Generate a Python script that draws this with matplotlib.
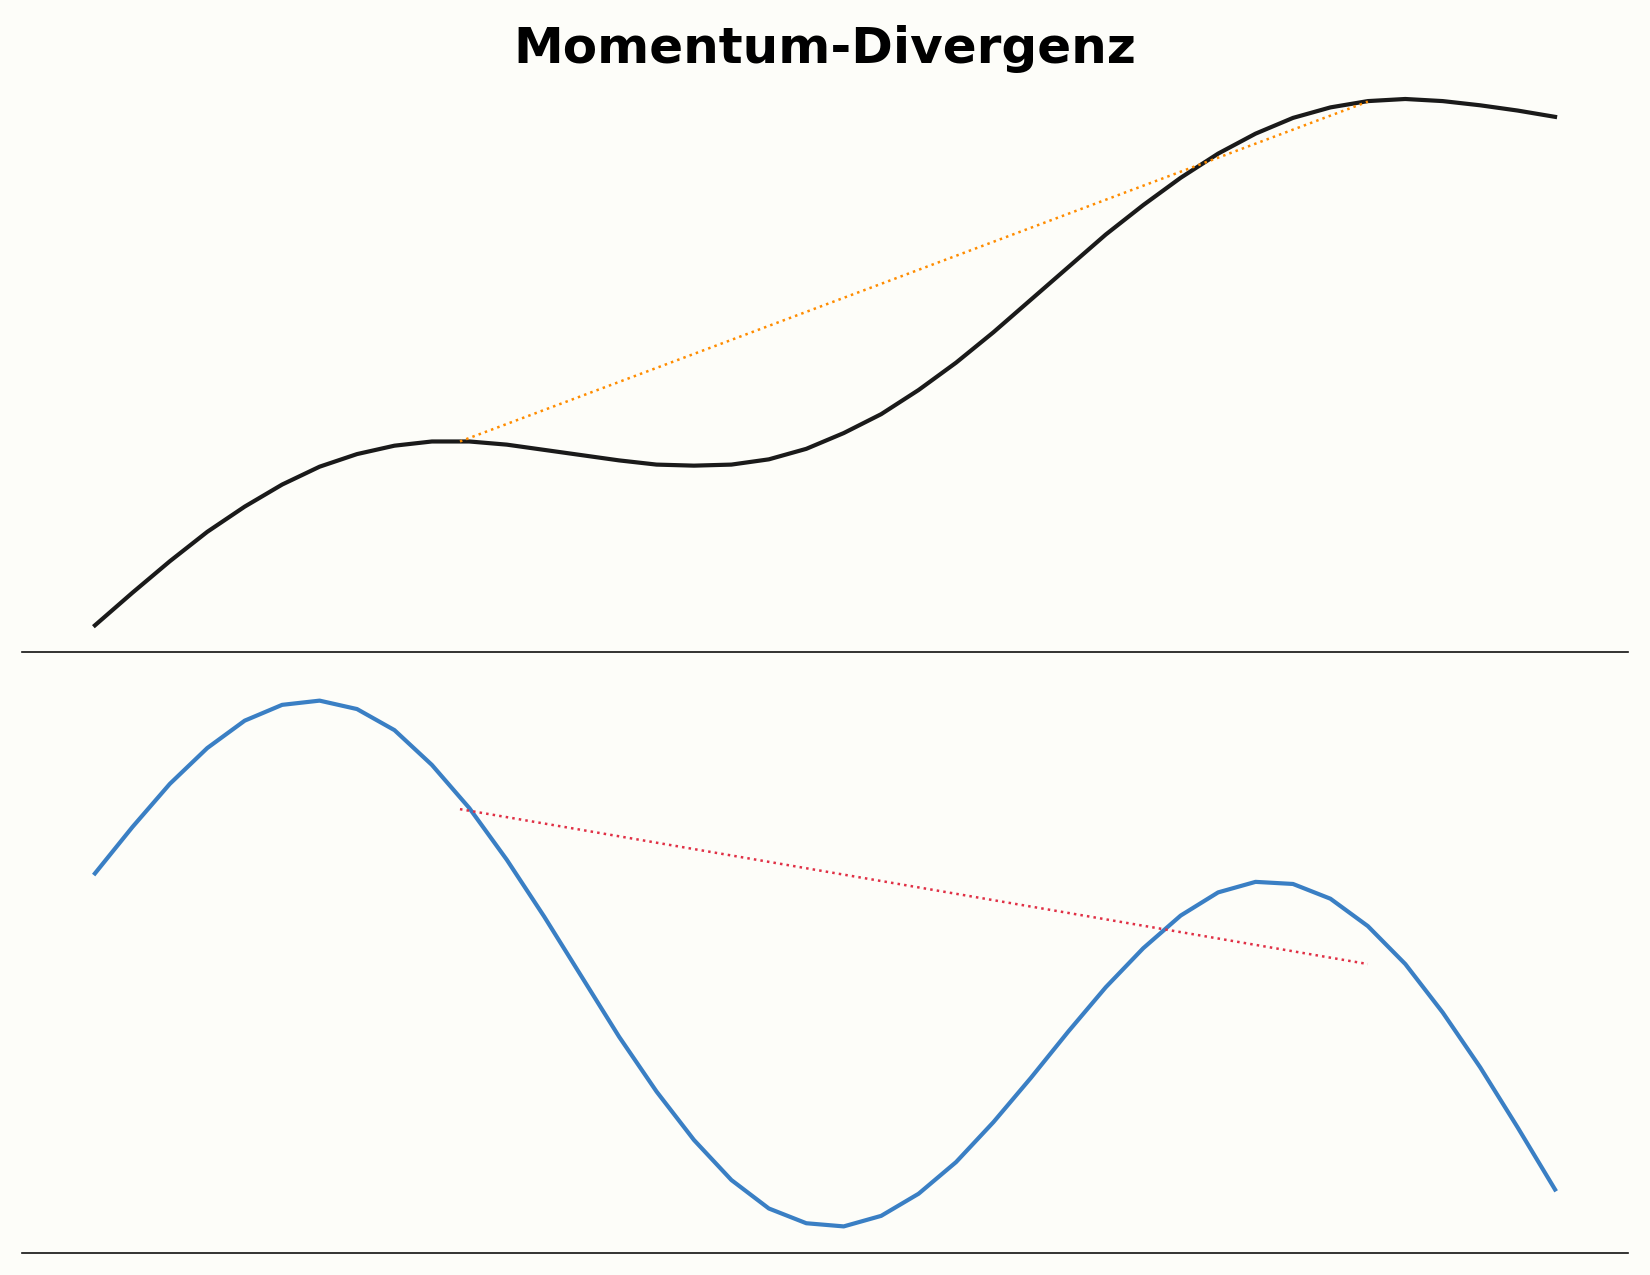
import numpy as np
import matplotlib
matplotlib.use("Agg")
import matplotlib.pyplot as plt

# Kursverlauf (Preis) und Momentum, je 40 Perioden
periods = np.arange(40)
price = [105.0, 111.2, 117.2, 122.8, 127.6, 131.8, 135.2, 137.6, 139.2, 140.0,
         140.0, 139.4, 138.4, 137.4, 136.4, 135.6, 135.4, 135.6, 136.6, 138.6,
         141.6, 145.2, 149.8, 155.0, 160.8, 167.0, 173.2, 179.4, 185.0, 190.2,
         194.8, 198.6, 201.6, 203.6, 204.8, 205.2, 204.8, 204.0, 203.0, 201.8]
momentum = [8.8, 13.2, 17.3, 20.7, 23.3, 24.8, 25.2, 24.4, 22.4, 19.1,
            15.0, 10.1, 4.7, -1.0, -6.7, -11.9, -16.5, -20.3, -23.0, -24.4,
            -24.7, -23.7, -21.6, -18.6, -14.8, -10.6, -6.2, -2.0, 1.7, 4.8,
            7.0, 8.0, 7.8, 6.4, 3.8, 0.2, -4.4, -9.6, -15.3, -21.2]

# Divergenzlinien: höheres Hoch im Preis, tieferes Hoch im Momentum
div_x = [9.75, 34]
div_price = [140.0, 204.7]
div_mom = [14.9, 0.2]

bg = "#fdfdf9"
fig = plt.figure(figsize=(11, 8.5), dpi=150, facecolor=bg)
ax1 = fig.add_axes([0.0133, 0.4889, 0.9734, 0.4541], facecolor=bg)
ax2 = fig.add_axes([0.0133, 0.0175, 0.9734, 0.4536], facecolor=bg)

ax1.plot(periods, price, color="#1a1a1a", lw=2)
ax1.plot(div_x, div_price, color="darkorange", lw=1.2, ls=":")

ax2.plot(periods, momentum, color="#3a7fc4", lw=2)
ax2.plot(div_x, div_mom, color="#e03045", lw=1.2, ls=":")

for ax in (ax1, ax2):
    ax.set_xlim(-1.95, 40.95)
    for s in ("top", "left", "right"):
        ax.spines[s].set_visible(False)
    ax.spines["bottom"].set_color("#111111")
    ax.set_xticks([])
    ax.set_yticks([])

fig.text(0.5, 0.9506, "Momentum-Divergenz", ha="center", va="baseline",
         fontsize=24, fontweight="bold")

fig.savefig("out.png", dpi=150, facecolor=bg)
